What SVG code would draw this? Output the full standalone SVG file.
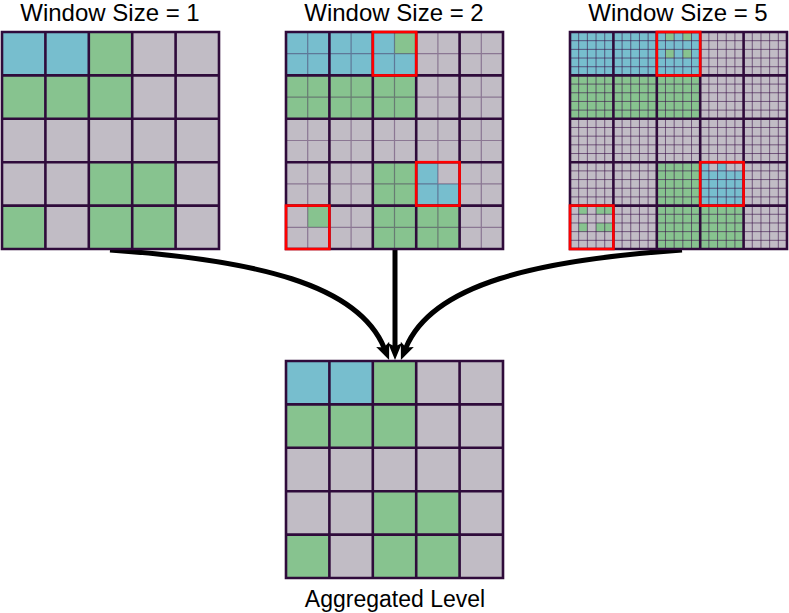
<svg xmlns="http://www.w3.org/2000/svg" xmlns:xlink="http://www.w3.org/1999/xlink" width="789" height="613" viewBox="0 0 789 613">
<style>
.bl{fill:#77BECE}
.gr{fill:#87C38F}
.gy{fill:#C1BCC5}
.thick{fill:none;stroke:#2F0B3B;stroke-width:2.6;stroke-linecap:square}
.sub2{fill:none;stroke:#3A1048;stroke-opacity:0.4;stroke-width:1.2}
.sub5{fill:none;stroke:#3A1048;stroke-opacity:0.6;stroke-width:1}
.red{fill:none;stroke:#FF0000;stroke-width:2.6}
.lbl{font-family:"Liberation Sans",Arial,sans-serif;font-size:24px;fill:#000;text-anchor:middle}
.arrow{fill:none;stroke:#000;stroke-width:5}
</style>
<defs>
<marker id="ah" markerUnits="userSpaceOnUse" markerWidth="20" markerHeight="16" refX="4" refY="7" orient="auto" overflow="visible">
<path d="M0,0 L17,7 L0,14 L3.5,7 z" fill="#000"/>
</marker>
<g id="base">
<rect class="gy" width="217" height="217"/>
<rect class="bl" x="0" y="0" width="86.8" height="43.4"/>
<rect class="gr" x="86.8" y="0" width="43.4" height="43.4"/>
<rect class="gr" x="0" y="43.4" width="130.2" height="43.4"/>
<rect class="gr" x="86.8" y="130.2" width="86.8" height="86.8"/>
<rect class="gr" x="0" y="173.6" width="43.4" height="43.4"/>
</g>
<path id="thick" class="thick" d="M0,0H217M0,43.4H217M0,86.8H217M0,130.2H217M0,173.6H217M0,217H217M0,0V217M43.4,0V217M86.8,0V217M130.2,0V217M173.6,0V217M217,0V217"/>
<path id="sub2" class="sub2" d="M0,21.7H217M0,65.1H217M0,108.5H217M0,151.9H217M0,195.3H217M21.7,0V217M65.1,0V217M108.5,0V217M151.9,0V217M195.3,0V217"/>
<path id="sub5" class="sub5" d="M0,8.68H217M0,17.36H217M0,26.04H217M0,34.72H217M0,52.08H217M0,60.76H217M0,69.44H217M0,78.12H217M0,95.48H217M0,104.16H217M0,112.84H217M0,121.52H217M0,138.88H217M0,147.56H217M0,156.24H217M0,164.92H217M0,182.28H217M0,190.96H217M0,199.64H217M0,208.32H217M8.68,0V217M17.36,0V217M26.04,0V217M34.72,0V217M52.08,0V217M60.76,0V217M69.44,0V217M78.12,0V217M95.48,0V217M104.16,0V217M112.84,0V217M121.52,0V217M138.88,0V217M147.56,0V217M156.24,0V217M164.92,0V217M182.28,0V217M190.96,0V217M199.64,0V217M208.32,0V217"/>
</defs>

<g id="connectors">
<path class="arrow" d="M110,250 C255,260 358,284 384.2,348" marker-end="url(#ah)"/>
<path class="arrow" d="M395,250 V347" marker-end="url(#ah)"/>
<path class="arrow" d="M682,250 C537,260 432,284 405.8,348" marker-end="url(#ah)"/>
</g>

<g id="grid-w1">
<text class="lbl" x="110" y="21">Window Size = 1</text>
<g transform="translate(2,32)">
<use xlink:href="#base"/>
<use xlink:href="#thick"/>
</g>
</g>

<g id="grid-w2">
<text class="lbl" x="394" y="21">Window Size = 2</text>
<g transform="translate(286,32)">
<use xlink:href="#base"/>
<rect class="bl" x="86.8" y="0" width="43.4" height="43.4"/>
<rect class="gr" x="108.5" y="0" width="21.7" height="21.7"/>
<rect class="bl" x="130.2" y="130.2" width="43.4" height="43.4"/>
<rect class="gy" x="151.9" y="130.2" width="21.7" height="21.7"/>
<rect class="gy" x="0" y="173.6" width="43.4" height="43.4"/>
<rect class="gr" x="21.7" y="173.6" width="21.7" height="21.7"/>
<use xlink:href="#sub2"/>
<use xlink:href="#thick"/>
<rect class="red" x="86.8" y="0" width="43.4" height="43.4"/>
<rect class="red" x="130.2" y="130.2" width="43.4" height="43.4"/>
<rect class="red" x="0" y="173.6" width="43.4" height="43.4"/>
</g>
</g>

<g id="grid-w5">
<text class="lbl" x="678" y="21">Window Size = 5</text>
<g transform="translate(570,32)">
<use xlink:href="#base"/>
<rect class="bl" x="86.8" y="0" width="43.4" height="43.4"/>
<rect class="gr" x="95.48" y="0" width="8.68" height="8.68"/>
<rect class="gr" x="112.84" y="0" width="8.68" height="8.68"/>
<rect class="gr" x="95.48" y="17.36" width="8.68" height="8.68"/>
<rect class="gr" x="112.84" y="17.36" width="8.68" height="8.68"/>
<rect class="bl" x="130.2" y="130.2" width="43.4" height="43.4"/>
<rect class="gy" x="138.88" y="130.2" width="8.68" height="8.68"/>
<rect class="gy" x="156.24" y="130.2" width="17.36" height="8.68"/>
<rect class="gy" x="0" y="173.6" width="43.4" height="43.4"/>
<rect class="gr" x="8.68" y="173.6" width="8.68" height="8.68"/>
<rect class="gr" x="26.04" y="173.6" width="17.36" height="8.68"/>
<rect class="gr" x="8.68" y="190.96" width="8.68" height="8.68"/>
<rect class="gr" x="26.04" y="190.96" width="17.36" height="8.68"/>
<use xlink:href="#sub5"/>
<use xlink:href="#thick"/>
<rect class="red" x="86.8" y="0" width="43.4" height="43.4"/>
<rect class="red" x="130.2" y="130.2" width="43.4" height="43.4"/>
<rect class="red" x="0" y="173.6" width="43.4" height="43.4"/>
</g>
</g>

<g id="grid-aggregated">
<g transform="translate(286,361)">
<use xlink:href="#base"/>
<use xlink:href="#thick"/>
</g>
<text class="lbl" x="395" y="607" style="font-size:23px">Aggregated Level</text>
</g>
</svg>
